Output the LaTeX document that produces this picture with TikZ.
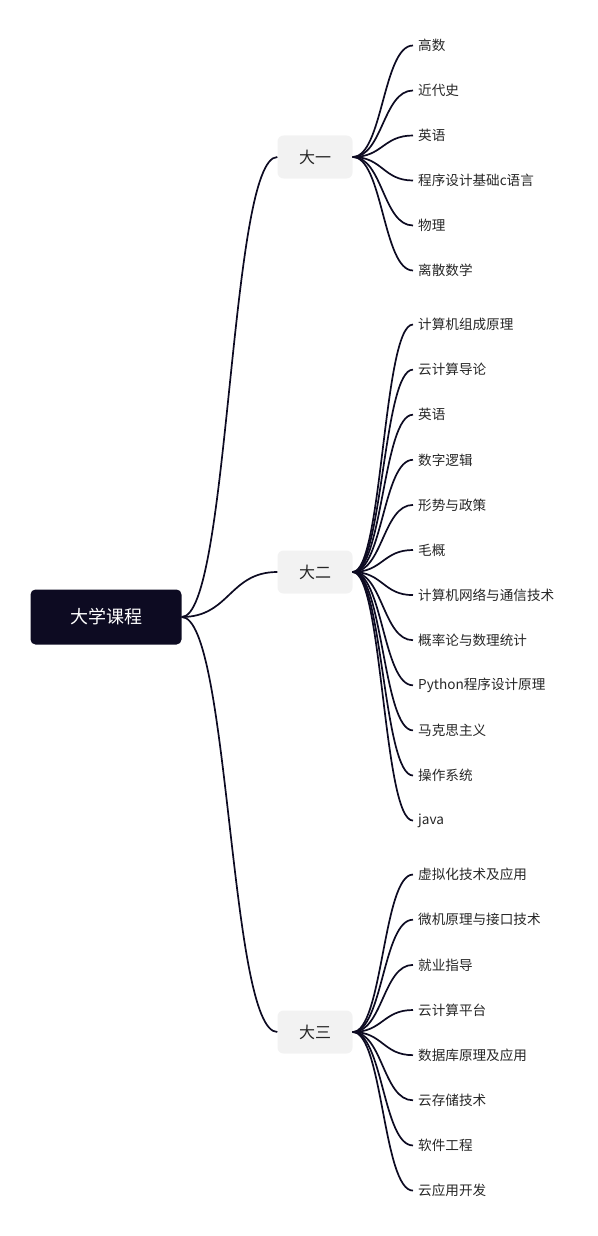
\documentclass[tikz,border=0pt]{standalone}
\usepackage{fontspec}
\setmainfont{Noto Sans CJK SC}
\definecolor{inkline}{RGB}{13,11,34}
\definecolor{hubgray}{RGB}{242,242,242}
\definecolor{leaftext}{RGB}{38,38,38}
\tikzset{
	rootbox/.style={fill=inkline, rounded corners=5pt, minimum width=151pt, minimum height=55pt, text=white, font=\fontsize{18}{21}\selectfont},
	hubbox/.style={fill=hubgray, rounded corners=6pt, minimum width=75pt, minimum height=43pt, text=leaftext, font=\fontsize{16}{19}\selectfont},
	leaf/.style={anchor=west, inner xsep=5pt, inner ysep=0pt, text=leaftext, font=\fontsize{13.6}{16}\selectfont},
	branch/.style={draw=inkline, line width=1.7pt}
}
\begin{document}
\begin{tikzpicture}[x=1pt,y=-1pt]
	\useasboundingbox (0,0) rectangle (597,1236);

	%main nodes
	\node [rootbox] (root) at (106,617) {大学课程};
	\node [hubbox] (y1) at (315,157) {大一};
	\node [hubbox] (y2) at (315,572) {大二};
	\node [hubbox] (y3) at (315,1032) {大三};

	%courses
	\foreach \t [count=\i] in {高数,近代史,英语,程序设计基础c语言,物理,离散数学}
		\node [leaf] (y1-\i) at (413,{45*\i+0.5}) {\t};
	\foreach \t [count=\i] in {计算机组成原理,云计算导论,英语,数字逻辑,形势与政策,毛概,计算机网络与通信技术,概率论与数理统计,Python程序设计原理,马克思主义,操作系统,java}
		\node [leaf] (y2-\i) at (413,{279.4+45.1*\i}) {\t};
	\foreach \t [count=\i] in {虚拟化技术及应用,微机原理与接口技术,就业指导,云计算平台,数据库原理及应用,云存储技术,软件工程,云应用开发}
		\node [leaf] (y3-\i) at (413,{829.4+45.15*\i}) {\t};

	%paths
	\foreach \h in {y1,y2,y3}
		\draw [branch] (root.east) .. controls +(48,0) and +(-48,0) .. (\h.west);
	\foreach \h/\n in {y1/6,y2/12,y3/8}
		\foreach \i in {1,...,\n}
			\draw [branch] (\h.east) .. controls +(30,0) and +(-30,0) .. (\h-\i.west);

\end{tikzpicture}
\end{document}
